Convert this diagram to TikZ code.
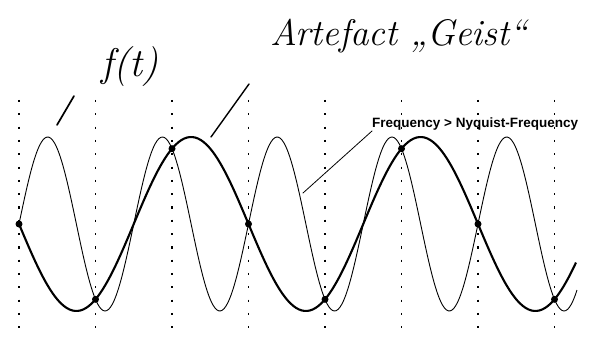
\documentclass[tikz,border=0pt]{standalone}
\usepackage{fontspec}
\newfontfamily\labelfont{Liberation Sans}
\usepackage{tikz}

\begin{document}
\begin{tikzpicture}[x=1pt, y=1pt,
    thinwave/.style={black, line width=0.9pt},
    thickwave/.style={black, line width=2.1pt},
    sampleline/.style={black, line width=1.9pt, dash pattern=on 2.2pt off 11.1pt},
    samplept/.style={circle, fill=black, inner sep=0pt, minimum size=7pt},
    pointer/.style={black, line cap=round}]
  \useasboundingbox (0,0) rectangle (592,338);
  \foreach \n in {0,...,7} {
    \draw[sampleline] (19+76.5*\n, 238) -- (19+76.5*\n, 2);
  }
  \draw[thinwave, domain=19:577, samples=300, smooth] plot (\x, {114+87*sin(3.1373*(\x-19))});
  \draw[thickwave, domain=19:576, samples=200, smooth] plot (\x, {114-87*sin(1.5686*(\x-19))});
  \foreach \n in {0,...,7} {
    \node[samplept] (s\n) at (19+76.5*\n, {114-87*sin(120*\n)}) {};
  }
  \node[font=\fontsize{40}{40}\selectfont\itshape, inner sep=0pt] (ft) at (130, 271) {f(t)};
  \node[font=\fontsize{37}{37}\selectfont\itshape, anchor=base west, inner sep=0pt] (geist) at (270, 292) {Artefact „Geist“};
  \node[font=\labelfont\bfseries\fontsize{13.5}{13.5}\selectfont, anchor=south west, inner sep=0pt] (nyq) at (372, 207) {Frequency > Nyquist-Frequency};
  \coordinate (ftend) at (57, 213);
  \coordinate (ftstart) at (74, 242);
  \coordinate (geistend) at (211, 201);
  \coordinate (geiststart) at (249, 254);
  \coordinate (nyqend) at (303, 145);
  \draw[pointer, line width=1.7pt] (ftstart) -- (ftend);
  \draw[pointer, line width=1.4pt] (geiststart) -- (geistend);
  \draw[pointer, line width=0.8pt] (nyq.south west) -- (nyqend);
\end{tikzpicture}
\end{document}
